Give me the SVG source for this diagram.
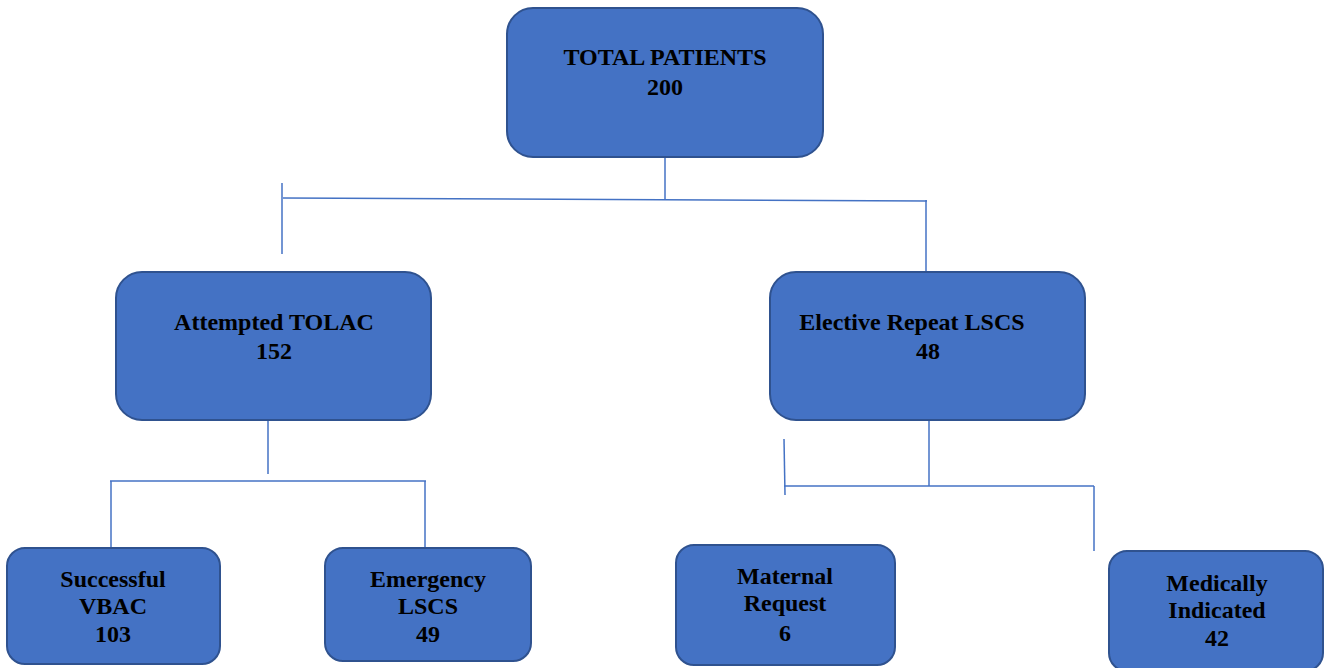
<svg xmlns="http://www.w3.org/2000/svg" width="1325" height="668" viewBox="0 0 1325 668">
<style>
.box{fill:#4472C4;stroke:#2F528F;stroke-width:2}
.t{font-family:"Liberation Serif","Times New Roman",serif;font-weight:bold;font-size:24px;fill:#000;text-anchor:middle}
.c{stroke:#4472C4;stroke-width:1.5;fill:none}
</style>
<rect width="1325" height="668" fill="#fff"/>
<g id="connectors">
<line class="c" x1="665" y1="157" x2="665" y2="199"/>
<line class="c" x1="283" y1="198" x2="927" y2="201"/>
<line class="c" x1="282" y1="183" x2="282" y2="254"/>
<line class="c" x1="926" y1="200" x2="926" y2="272"/>
<line class="c" x1="268" y1="420" x2="268" y2="474"/>
<line class="c" x1="110" y1="481" x2="426" y2="481"/>
<line class="c" x1="111" y1="481" x2="111" y2="548"/>
<line class="c" x1="425" y1="481" x2="425" y2="548"/>
<line class="c" x1="929" y1="420" x2="929" y2="486"/>
<line class="c" x1="784" y1="486" x2="1094" y2="486"/>
<line class="c" x1="784" y1="439" x2="785" y2="495"/>
<line class="c" x1="1094" y1="486" x2="1094" y2="551"/>
</g>
<g id="total">
<rect class="box" x="507" y="8" width="316" height="149" rx="26"/>
<text class="t" x="665" y="65">TOTAL PATIENTS</text>
<text class="t" x="665" y="95">200</text>
</g>
<g id="tolac">
<rect class="box" x="116" y="272" width="315" height="148" rx="26"/>
<text class="t" x="274" y="330">Attempted TOLAC</text>
<text class="t" x="274" y="359">152</text>
</g>
<g id="elective">
<rect class="box" x="770" y="272" width="315" height="148" rx="26"/>
<text class="t" x="912" y="330">Elective Repeat LSCS</text>
<text class="t" x="928" y="359">48</text>
</g>
<g id="vbac">
<rect class="box" x="7" y="548" width="213" height="116" rx="18"/>
<text class="t" x="113" y="587">Successful</text>
<text class="t" x="113" y="614">VBAC</text>
<text class="t" x="113" y="642">103</text>
</g>
<g id="emergency">
<rect class="box" x="325" y="548" width="206" height="113" rx="18"/>
<text class="t" x="428" y="587">Emergency</text>
<text class="t" x="428" y="614">LSCS</text>
<text class="t" x="428" y="642">49</text>
</g>
<g id="maternal">
<rect class="box" x="676" y="545" width="219" height="120" rx="18"/>
<text class="t" x="785" y="584">Maternal</text>
<text class="t" x="785" y="611">Request</text>
<text class="t" x="785" y="641">6</text>
</g>
<g id="medical">
<rect class="box" x="1109" y="551" width="214" height="120" rx="18"/>
<text class="t" x="1217" y="591">Medically</text>
<text class="t" x="1217" y="618">Indicated</text>
<text class="t" x="1217" y="646">42</text>
</g>
</svg>
